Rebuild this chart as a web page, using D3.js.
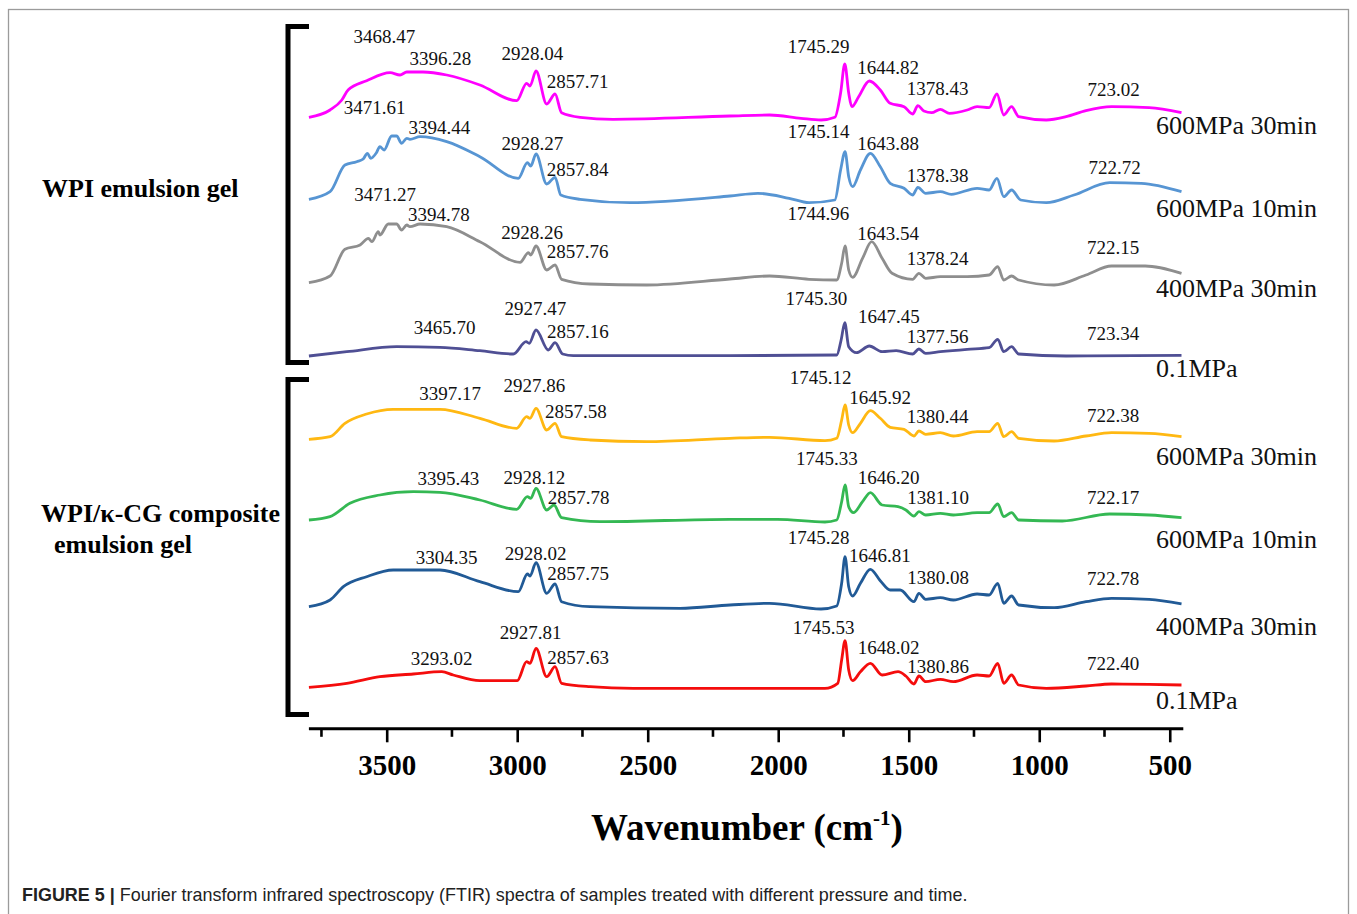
<!DOCTYPE html>
<html><head><meta charset="utf-8">
<script src="https://cdn.jsdelivr.net/npm/d3@7"></script>
<style>
html,body{margin:0;padding:0;background:#fff;}
svg{display:block;}
</style></head>
<body>
<svg id="chart" width="1357" height="914"></svg>
<script>
// FTIR spectra: [wavenumber (cm-1), relative absorbance (a.u.) above each trace's own baseline]
const wpi600_30 = [[3798,2.7],[3717,10],[3672,20],[3648,30],[3577,39.3],[3487,47.3],[3449,45],[3423,48],[3361,48],[3270,45],[3143,35],[3002,19.3],[2964,36.7],[2951,34],[2928,49],[2887,16],[2855,26],[2830,7.3],[2759,2.7],[2633,0.7],[2185,4],[2033,5],[1913,1.7],[1836,0],[1783,2.7],[1761,27],[1745,56],[1730,27],[1718,13.3],[1692,23.3],[1651,39],[1609,30],[1571,16.7],[1518,13.3],[1485,6],[1465,14.3],[1442,9],[1412,7.3],[1379,10.7],[1344,6.7],[1276,10],[1238,13.3],[1192,12.3],[1162,26],[1136,5],[1106,13.3],[1079,3.3],[973,0],[897,3.3],[821,9.3],[723,13.3],[579,12.3],[455,7.3]];
const wpi600_10 = [[3798,3.7],[3717,11.3],[3660,38],[3615,41.3],[3590,44],[3574,49.7],[3561,44.7],[3540,50],[3526,56.3],[3510,53],[3481,67],[3462,67],[3443,59.7],[3423,64.7],[3411,63.7],[3372,66.3],[3270,61.3],[3143,46.3],[2996,24.7],[2961,40.3],[2948,37],[2928,49],[2887,19],[2855,25.7],[2833,8],[2759,3.7],[2568,0.3],[2185,7],[2079,9.7],[1958,4.7],[1882,0.3],[1783,3],[1761,33],[1744,51.3],[1730,26.3],[1715,16.3],[1685,33],[1647,49.7],[1609,36.3],[1571,19.7],[1518,14.7],[1485,8],[1465,15.7],[1435,9.7],[1379,11.3],[1337,8.7],[1238,14.7],[1192,13],[1162,24.7],[1136,6.3],[1106,13],[1071,3],[973,0.3],[867,8],[730,20.3],[609,19.7],[455,11.3]];
const wpi400_30 = [[3798,2.3],[3717,9],[3660,35.7],[3602,40],[3570,46.7],[3557,43.3],[3532,53.3],[3526,50],[3494,61],[3462,61],[3443,55],[3423,60],[3411,58.3],[3372,61],[3270,58.3],[3143,43.3],[2989,22.7],[2957,32.3],[2948,30],[2928,39],[2887,15],[2855,20],[2830,5.7],[2721,1],[2504,0],[2185,6],[2033,9],[1882,5.7],[1776,5],[1757,21.7],[1744,39],[1730,15],[1715,7.7],[1677,26.7],[1642,43.3],[1602,26.7],[1564,11.7],[1485,5.7],[1461,11.7],[1435,6.7],[1379,8.3],[1276,8.3],[1192,10],[1159,18.3],[1136,5],[1106,9],[1079,5],[943,0],[821,10],[723,19],[594,19],[455,11.7]];
const wpi01 = [[3798,0],[3653,4.3],[3462,9.3],[3296,8.7],[3143,5.3],[3015,2],[2966,14.3],[2954,12.7],[2928,26],[2881,6],[2855,13.3],[2826,2],[2785,0.3],[2185,0.3],[1776,1],[1759,16],[1745,33.3],[1730,9.3],[1700,3.3],[1651,10],[1602,4.3],[1548,5.3],[1485,2],[1461,7],[1435,2.7],[1379,4.3],[1276,6.7],[1192,8.3],[1159,16.7],[1136,4.3],[1106,9.3],[1079,2],[897,0],[455,0.7]];
const cg600_30 = [[3798,2.7],[3717,5.3],[3660,18.7],[3577,28],[3475,32.7],[3296,32.7],[3143,23.7],[3002,13.7],[2964,25.3],[2951,23.7],[2928,33.7],[2887,12],[2855,18.7],[2830,5.3],[2721,2],[2504,0.3],[2185,3.7],[2033,4.7],[1821,1.3],[1776,3.7],[1757,22],[1744,37],[1730,17],[1715,9.3],[1685,18.7],[1647,31.3],[1609,23.7],[1571,14.7],[1518,12.7],[1480,6],[1461,11],[1435,7.7],[1379,9.3],[1329,6],[1238,10.3],[1192,10.3],[1159,18.7],[1136,5.3],[1106,10.3],[1079,3.7],[943,1],[821,6],[723,9.3],[579,8.7],[455,5.3]];
const cg600_10 = [[3798,2],[3717,5.3],[3641,18.7],[3526,27],[3398,30.3],[3296,29.7],[3143,22],[3002,12.7],[2961,25.3],[2948,23.7],[2928,33.7],[2887,12],[2859,17],[2830,4.3],[2683,0.3],[2185,2.7],[2003,2.7],[1821,0],[1776,2],[1757,20.3],[1744,37],[1730,15.3],[1712,9.3],[1677,20.3],[1647,29.3],[1602,17],[1541,15.3],[1511,12],[1480,6],[1461,10.3],[1435,7],[1379,8.7],[1329,7],[1238,9.3],[1192,9.3],[1159,18],[1136,5.3],[1106,9.3],[1079,2],[912,1],[730,8],[579,7],[455,4.3]];
const cg400_30 = [[3798,2.3],[3717,9],[3666,22.3],[3577,32.3],[3475,39],[3296,39],[3143,27.3],[2996,17.3],[2961,35],[2951,33],[2928,46.3],[2887,15.7],[2855,25],[2830,7.3],[2721,2.3],[2376,0.7],[2185,4],[2033,5.7],[1836,0],[1776,3],[1757,25.7],[1744,52.3],[1730,22.3],[1715,13],[1685,25.7],[1647,39.7],[1609,28.3],[1571,19],[1533,19],[1480,7.3],[1461,15.7],[1435,9.7],[1379,11.3],[1329,9],[1238,15],[1192,14],[1159,25.7],[1136,5.7],[1106,13],[1079,4],[943,1.3],[821,7.3],[723,10.7],[579,9.7],[455,5]];
const cg01 = [[3798,1.7],[3653,5.7],[3526,12.3],[3398,15],[3289,17.3],[3245,14],[3143,8.3],[3000,8.3],[2964,27.3],[2951,25.7],[2928,40.7],[2887,12.3],[2855,22.3],[2830,5.7],[2721,2.3],[2555,0.7],[2185,0.7],[1821,0.7],[1772,5.7],[1757,29],[1744,48.3],[1730,19],[1715,8.3],[1685,17.3],[1647,25.7],[1602,14],[1541,17.3],[1511,13],[1480,5],[1461,13],[1435,7.3],[1379,9.7],[1329,7.3],[1238,14],[1192,13],[1159,25.7],[1136,5.7],[1106,14],[1079,4],[973,0.7],[821,3],[723,5],[579,4.7],[455,4]];

const spectra = [wpi600_30, wpi600_10, wpi400_30, wpi01, cg600_30, cg600_10, cg400_30, cg01];
// vertical stacking offset of each trace (a.u.)
const stackOffsets = [608, 525, 443, 372, 286, 206, 119, 39];
const sampleNames = ["600MPa 30min","600MPa 10min","400MPa 30min","0.1MPa","600MPa 30min","600MPa 10min","400MPa 30min","0.1MPa"];
const groupNames = [["WPI emulsion gel"], ["WPI/\u03BA-CG composite", "emulsion gel"]];

// assigned peak positions (cm-1) for each trace
const peakValues = [
  ["3468.47","3396.28","2928.04","2857.71","1745.29","1644.82","1378.43","723.02"],
  ["3471.61","3394.44","2928.27","2857.84","1745.14","1643.88","1378.38","722.72"],
  ["3471.27","3394.78","2928.26","2857.76","1744.96","1643.54","1378.24","722.15"],
  ["3465.70","2927.47","2857.16","1745.30","1647.45","1377.56","723.34"],
  ["3397.17","2927.86","2857.58","1745.12","1645.92","1380.44","722.38"],
  ["3395.43","2928.12","2857.78","1745.33","1646.20","1381.10","722.17"],
  ["3304.35","2928.02","2857.75","1745.28","1646.81","1380.08","722.78"],
  ["3293.02","2927.81","2857.63","1745.53","1648.02","1380.86","722.40"]
];

const majorTicks = [3500, 3000, 2500, 2000, 1500, 1000, 500];
const minorTicks = [3750, 3250, 2750, 2250, 1750, 1250, 750];

// ---- layout ----
const colors = ["#ff00ff","#5795d3","#8e8e8e","#4f4f94","#ffb812","#34b853","#215a96","#f40d0d"];
// label placement: horizontal shift from the peak position (px) and text baseline (px)
const labelDx = [
  [-10.6, 26.7, -3.7, 23.2, -26.1, 17.3, -2.8, 2],
  [-19.4, 25.2, -3.6, 23.2, -26.1, 17, -2.9, 3],
  [-9.2, 24.8, -3.9, 23.2, -26.3, 16.9, -2.9, 1.4],
  [48.9, -0.8, 23.5, -28.3, 18.6, -3.1, 1.6],
  [36.5, -1.7, 21.6, -24.1, 9.6, -2.3, 1.4],
  [34.3, -1.7, 24.4, -17.8, 18.1, -1.7, 1.4],
  [8.9, -0.3, 23.7, -26.1, 9.4, -2, 1.5],
  [1, -5.5, 23.7, -20.9, 18.5, -1.8, 1.4]
];
const labelY = [
  [43, 64.5, 60, 87.5, 52.5, 74, 95, 96],
  [113.5, 134, 149.5, 175.5, 138, 149.5, 181.5, 174],
  [200.5, 220.5, 238.5, 257.5, 219.5, 239.5, 265, 253.5],
  [334, 315, 337.5, 305, 322.5, 342.5, 339.5],
  [400, 391.5, 417.5, 384, 403.5, 422.5, 421.5],
  [485, 483.5, 503.5, 465, 483.5, 503.5, 503.5],
  [564, 559.5, 579.5, 543.5, 561.5, 583.5, 585],
  [665, 638.5, 663.5, 633.5, 653.5, 672.5, 670]
];
const sampleLabelY = [134, 217, 297, 377, 465, 548, 635, 709];

const svg = d3.select("#chart");
const serif = "'Liberation Serif','Times New Roman',serif";

// outer figure frame
svg.append("rect").attr("x", 8.5).attr("y", 9.5).attr("width", 1340).attr("height", 940)
  .attr("fill", "none").attr("stroke", "#9b9b9b").attr("stroke-width", 1.3);

const x = d3.scaleLinear().domain([3800, 450]).range([308.4, 1182.8]);
const y = d3.scaleLinear().domain([0, 700]).range([728, 28]);

// spectra
const line = d3.line().x(d => x(d[0])).curve(d3.curveMonotoneX);
spectra.forEach((s, i) => {
  svg.append("path")
    .attr("d", line.y(d => y(d[1] + stackOffsets[i]))(s))
    .attr("fill", "none").attr("stroke", colors[i])
    .attr("stroke-width", 2.8).attr("stroke-linejoin", "round");
});

// peak labels
peakValues.forEach((vals, i) => {
  vals.forEach((v, j) => {
    svg.append("text").attr("x", x(+v) + labelDx[i][j]).attr("y", labelY[i][j])
      .attr("text-anchor", "middle").attr("font-family", serif).attr("font-size", 19)
      .attr("fill", "#111").text(v);
  });
});

// sample names on the right
sampleNames.forEach((n, i) => {
  svg.append("text").attr("x", 1156).attr("y", sampleLabelY[i])
    .attr("font-family", serif).attr("font-size", 26).attr("fill", "#111").text(n);
});

// group brackets
[[26.5, 362.5], [379.5, 714.5]].forEach(([t, b]) => {
  svg.append("path").attr("d", `M309,${t}H288V${b}H309`)
    .attr("fill", "none").attr("stroke", "#000").attr("stroke-width", 5)
    .attr("stroke-linejoin", "miter");
});

// group names
svg.append("text").attr("x", 42).attr("y", 197).attr("font-family", serif)
  .attr("font-weight", "bold").attr("font-size", 26).text(groupNames[0][0]);
svg.append("text").attr("x", 41).attr("y", 521.5).attr("font-family", serif)
  .attr("font-weight", "bold").attr("font-size", 26).text(groupNames[1][0]);
svg.append("text").attr("x", 54).attr("y", 553).attr("font-family", serif)
  .attr("font-weight", "bold").attr("font-size", 26).text(groupNames[1][1]);

// x axis
const axisY = 728.3;
const gx = svg.append("g").attr("transform", `translate(0,${axisY})`)
  .call(d3.axisBottom(x).tickValues(majorTicks).tickSize(14).tickSizeOuter(0).tickFormat(d3.format("d")));
gx.select(".domain").attr("stroke", "#000").attr("stroke-width", 3);
gx.selectAll(".tick line").attr("stroke", "#000").attr("stroke-width", 2.6);
gx.selectAll(".tick text").attr("font-family", serif).attr("font-weight", "bold")
  .attr("font-size", 29).attr("fill", "#000").attr("dy", null).attr("y", 47);
svg.append("g").attr("transform", `translate(0,${axisY})`)
  .selectAll("line").data(minorTicks).join("line")
  .attr("x1", d => x(d)).attr("x2", d => x(d)).attr("y1", 0).attr("y2", 8.5)
  .attr("stroke", "#000").attr("stroke-width", 2.6);

// axis title
const title = svg.append("text").attr("x", 747).attr("y", 840).attr("text-anchor", "middle")
  .attr("font-family", serif).attr("font-weight", "bold").attr("font-size", 37).attr("fill", "#000");
title.append("tspan").text("Wavenumber (cm");
title.append("tspan").attr("font-size", 21).attr("dy", -15).text("-1");
title.append("tspan").attr("dy", 15).text(")");

// caption
const cap = svg.append("g").attr("transform", "translate(22,901)");
const capText = cap.append("text").attr("font-family", "'Liberation Sans',Arial,sans-serif")
  .attr("font-size", 18).attr("fill", "#222");
capText.append("tspan").attr("font-weight", "bold").text("FIGURE 5 | ");
capText.append("tspan").text("Fourier transform infrared spectroscopy (FTIR) spectra of samples treated with different pressure and time.");
const capW = capText.node().getComputedTextLength();
cap.attr("transform", `translate(22,901) scale(${946 / capW},1)`);
</script>
</body></html>
